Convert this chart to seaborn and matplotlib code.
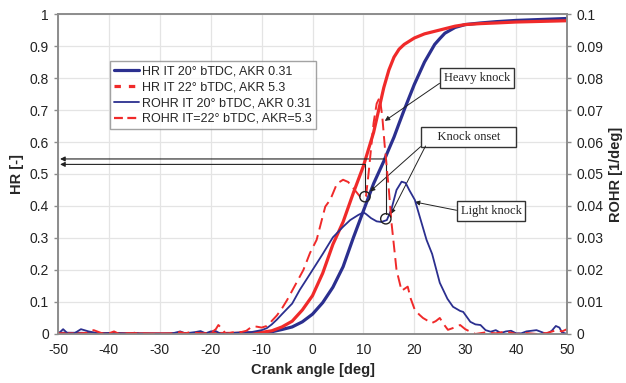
import numpy as np
import pandas as pd
import seaborn as sns
import matplotlib
matplotlib.use('Agg')
from matplotlib import pyplot as plt
from matplotlib.lines import Line2D
from matplotlib.ticker import FuncFormatter, MultipleLocator

BLUE = '#2b2f8f'
RED = '#f02a2a'

# heat release (HR) curves, left axis
hr_x = [-50, -40, -30, -20, -15, -12, -10, -8, -6, -4, -2, 0, 2, 4, 6, 8, 10,
        12, 13, 14, 15, 16, 17, 18, 20, 22, 24, 25, 26, 28, 30, 33, 36, 40, 45, 50]
hr_blue = [0.002, 0.001, 0.0, 0.001, 0.001, 0.002, 0.003, 0.007, 0.014, 0.022,
           0.038, 0.062, 0.098, 0.146, 0.21, 0.30, 0.385, 0.47, 0.505, 0.54,
           0.578, 0.615, 0.658, 0.70, 0.78, 0.85, 0.905, 0.923, 0.94, 0.958,
           0.967, 0.972, 0.976, 0.98, 0.983, 0.986]
hr_red = [0.0, 0.0, 0.0, 0.001, 0.002, 0.003, 0.005, 0.01, 0.022, 0.04, 0.075,
          0.12, 0.19, 0.28, 0.35, 0.44, 0.525, 0.63, 0.70, 0.77, 0.825, 0.865,
          0.89, 0.905, 0.925, 0.938, 0.946, 0.95, 0.954, 0.962, 0.967, 0.97,
          0.972, 0.975, 0.977, 0.979]

# rate of heat release (ROHR), right axis
rohr_blue_x = [-50, -49, -48, -47, -46, -45.5, -44, -43, -42, -40, -38, -36, -35,
               -34, -30, -28, -26, -25, -23, -22, -21, -20, -19, -18, -16, -14,
               -12, -10, -9, -8, -7, -6, -4, -2.5, -1, 0.8, 2, 4, 6, 7.4, 9, 10,
               10.5, 11.5, 12.6, 13.5, 14.6, 15.5, 16.5, 17.5, 18.3, 19, 20.1,
               21, 22.4, 23.5, 25, 26.5, 27.6, 29, 29.6, 31, 32, 33, 34, 35, 36,
               37, 38, 39, 40, 41, 42, 43, 44, 45, 46, 47, 47.8, 48.5, 49, 50]
rohr_blue = [0.0, 0.0015, 0.0, 0.0, 0.001, 0.0015, 0.0008, 0.0005, 0.0, 0.0003,
             0.0002, 0.0, 0.0004, 0.0, 0.0, 0.0, 0.0008, 0.0002, 0.0006, 0.0009,
             0.0002, 0.0008, 0.0009, 0.0, 0.0003, 0.0005, 0.0006, 0.0012, 0.0018,
             0.003, 0.0045, 0.0062, 0.0095, 0.0138, 0.0175, 0.022, 0.025, 0.0302,
             0.0335, 0.0356, 0.0372, 0.038, 0.0375, 0.0362, 0.0352, 0.035,
             0.0356, 0.039, 0.045, 0.0476, 0.0472, 0.045, 0.0419, 0.037, 0.0294,
             0.025, 0.016, 0.011, 0.0085, 0.0072, 0.0069, 0.0038, 0.003, 0.0028,
             0.0012, 0.0007, 0.0012, 0.0003, 0.0008, 0.001, 0.0002, 0.0002,
             0.0008, 0.001, 0.0012, 0.0006, 0.0, 0.001, 0.0025, 0.002, 0.0005, 0.0]

rohr_red_x = [-50, -48, -46, -44, -43, -42, -41, -40, -39, -38, -35, -32, -28,
              -27, -26, -25, -24, -22, -20, -19, -18.5, -18, -17, -16, -15, -14,
              -13, -12, -11, -10, -9, -8.4, -7, -6, -5, -3.5, -1.8, -0.5, 0.8,
              2.5, 3.5, 4.8, 6, 7, 8.3, 9.3, 10, 10.5, 11, 11.5, 12, 12.6, 13.2,
              13.7, 14.2, 15, 15.5, 16.5, 17.5, 18.7, 19.3, 20.1, 21, 21.7, 23.4,
              24.2, 25, 25.8, 26.6, 27.5, 29, 30, 31, 32, 34, 36, 38, 40, 42, 44,
              46, 48, 49, 50]
rohr_red = [0.0003, 0.0, 0.0, 0.0005, 0.0012, 0.0006, 0.0, 0.0002, 0.0008, 0.0,
            0.0003, 0.0, 0.0, 0.0003, 0.0006, 0.0002, 0.0006, 0.0002, 0.0003,
            0.0015, 0.0028, 0.002, 0.0, 0.0004, 0.0007, 0.0006, 0.001, 0.0022,
            0.0023, 0.002, 0.0025, 0.0034, 0.0058, 0.008, 0.0106, 0.015, 0.02,
            0.0253, 0.0294, 0.0398, 0.042, 0.047, 0.0482, 0.0475, 0.045, 0.043,
            0.0425, 0.043, 0.05, 0.058, 0.066, 0.072, 0.074, 0.068, 0.0585,
            0.045, 0.035, 0.02, 0.0135, 0.0148, 0.011, 0.0075, 0.006, 0.005,
            0.0034, 0.004, 0.005, 0.003, 0.0013, 0.0018, 0.0028, 0.0015, 0.0007,
            0.0, 0.0005, 0.0002, 0.0008, 0.0, 0.0003, 0.0, 0.0003, 0.0012,
            0.0008, 0.0015]

labels = ['HR IT 20° bTDC, AKR 0.31', 'HR IT 22° bTDC, AKR 5.3',
          'ROHR IT 20° bTDC, AKR 0.31', 'ROHR IT=22° bTDC, AKR=5.3']

# knock onset points (crank angle, ROHR)
onset_x = [10.3, 14.4]
onset_y = [0.0429, 0.036]

sns.set_style('white')
plt.rcParams['font.family'] = ['Liberation Sans', 'DejaVu Sans']
plt.rcParams['axes.unicode_minus'] = False

fig = plt.figure(figsize=(6.26, 3.83), dpi=100)
ax = fig.add_axes([0.0927, 0.128, 0.8131, 0.8354])
ax2 = ax.twinx()

sns.lineplot(x=hr_x, y=hr_blue, ax=ax, color=BLUE, lw=2.3, estimator=None)
sns.lineplot(x=hr_x, y=hr_red, ax=ax, color=RED, lw=2.3, estimator=None)
sns.lineplot(x=rohr_blue_x, y=rohr_blue, ax=ax2, color=BLUE, lw=1.3,
             estimator=None)
sns.lineplot(x=rohr_red_x, y=rohr_red, ax=ax2, color=RED, lw=1.4,
             estimator=None, dashes=False, linestyle=(0, (6, 3)))

ax.set_xlim(-50, 50)
ax.set_ylim(0, 1)
ax2.set_ylim(0, 0.1)
ax.xaxis.set_major_locator(MultipleLocator(10))
ax.yaxis.set_major_locator(MultipleLocator(0.1))
ax2.yaxis.set_major_locator(MultipleLocator(0.01))
fmt = FuncFormatter(lambda v, p: '%g' % round(v, 3))
ax.yaxis.set_major_formatter(fmt)
ax2.yaxis.set_major_formatter(fmt)

ax.grid(True, color='#e4e4e4', lw=0.9)
ax2.grid(False)
for a in (ax, ax2):
    for s in a.spines.values():
        s.set_color('#8c8c8c')
        s.set_linewidth(1.2)
    a.tick_params(direction='out', length=3, width=1, color='#8c8c8c',
                  labelsize=10, labelcolor='#222222')

ax.set_xlabel('Crank angle [deg]', fontweight='bold', fontsize=10.5)
ax.set_ylabel('HR [-]', fontweight='bold', fontsize=10.5)
ax2.set_ylabel('ROHR [1/deg]', fontweight='bold', fontsize=10.5)

# knock onset marks: horizontal arrows to HR axis and vertical drop lines
acol = '#222222'
for (x0, hr0, yc) in [(10.3, 0.53, 0.429), (14.4, 0.547, 0.36)]:
    ax.annotate('', xy=(-49.6, hr0), xytext=(x0, hr0),
                arrowprops=dict(arrowstyle='-|>', color=acol, lw=0.8,
                                mutation_scale=7, shrinkA=0, shrinkB=0))
    ax.plot([x0, x0], [hr0, yc + 0.015], color=acol, lw=0.8)
ax2.scatter(onset_x, onset_y, s=55, facecolors='none', edgecolors=acol,
            linewidths=1.0, zorder=5)

box = dict(boxstyle='square,pad=0.3', fc='white', ec='#333333', lw=1.0)
tfont = dict(family='Liberation Serif', fontsize=9, color='#222222')
aprops = dict(arrowstyle='-|>', color=acol, lw=0.7, mutation_scale=7,
              shrinkA=0, shrinkB=0)

ax.annotate('Heavy knock', xy=(14.2, 0.666), xytext=(32.3, 0.80),
            ha='center', va='center', bbox=box,
            arrowprops=dict(aprops, relpos=(0, 0.3)), **tfont)
ax.annotate('    Knock onset    ', xy=(11.3, 0.445), xytext=(30.7, 0.616),
            ha='center', va='center', bbox=box,
            arrowprops=dict(aprops, relpos=(0, 0)), **tfont)
ax.annotate('', xy=(15.4, 0.375), xytext=(22.2, 0.5875),
            arrowprops=aprops)
ax.annotate('Light knock', xy=(20.1, 0.4125), xytext=(35.1, 0.384),
            ha='center', va='center', bbox=box,
            arrowprops=dict(aprops, relpos=(0, 0.5)), **tfont)

handles = [Line2D([], [], color=BLUE, lw=2.3),
           Line2D([], [], color=RED, lw=2.3, linestyle=(0, (2, 2.5))),
           Line2D([], [], color=BLUE, lw=1.3),
           Line2D([], [], color=RED, lw=1.6, linestyle=(0, (4, 2)))]
leg = ax2.legend(handles, labels, loc='upper left',
                 bbox_to_anchor=(0.102, 0.852), fontsize=9, frameon=True,
                 fancybox=False, handlelength=2.0, handletextpad=0.2,
                 borderpad=0.35, labelspacing=0.3, borderaxespad=0)
leg.get_frame().set_edgecolor('#8c8c8c')
leg.get_frame().set_linewidth(1.0)

fig.savefig('out.png', dpi=100)
plt.close(fig)
